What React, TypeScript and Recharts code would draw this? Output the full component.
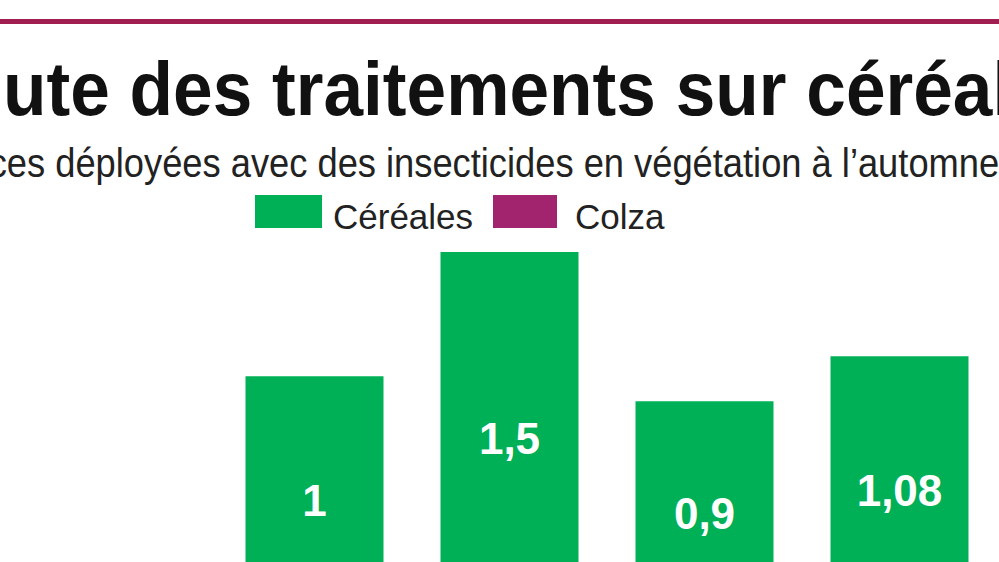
import { BarChart, Bar, XAxis, YAxis, LabelList } from "recharts"

// values printed on the bars (the x axis labels are outside the visible crop)
const periods = ["P1", "P2", "P3", "P4"]
const cereales = [1, 1.5, 0.9, 1.08]

const GREEN = "#00b057"
const PURPLE = "#a2246f"
const LINE = "#a01e50"

const data = periods.map((p, i) => ({ period: p, cereales: cereales[i] }))

const fmt = (v: any) => String(v).replace(".", ",")

export default function App() {
  return (
    <div
      style={{
        position: "fixed",
        left: 0,
        top: 0,
        width: 999,
        height: 562,
        overflow: "hidden",
        background: "#fff",
        fontFamily: "'Liberation Sans', Arial, sans-serif",
      }}
    >
      <div style={{ position: "absolute", left: 0, top: 19, width: 999, height: 5, background: LINE }} />

      {/* title and subtitle run past both edges of the crop */}
      <div
        style={{
          position: "absolute",
          left: -92,
          top: 49,
          whiteSpace: "nowrap",
          fontSize: 76,
          fontWeight: "bold",
          color: "#111",
          lineHeight: "80px",
          transform: "scaleX(0.937)",
          transformOrigin: "left",
        }}
      >
        Chute des traitements sur céréales
      </div>

      <div
        style={{
          position: "absolute",
          left: -98,
          top: 140,
          whiteSpace: "nowrap",
          fontSize: 40,
          color: "#222",
          lineHeight: "46px",
          transform: "scaleX(0.907)",
          transformOrigin: "left",
        }}
      >
        Surfaces déployées avec des insecticides en végétation à l’automne
      </div>

      {/* legend */}
      <div style={{ position: "absolute", left: 255, top: 195, width: 67, height: 33, background: GREEN }} />
      <div style={{ position: "absolute", left: 333, top: 197, fontSize: 35, lineHeight: "40px", color: "#222" }}>
        Céréales
      </div>
      <div style={{ position: "absolute", left: 493, top: 195, width: 64, height: 33, background: PURPLE }} />
      <div style={{ position: "absolute", left: 575, top: 197, fontSize: 35, lineHeight: "40px", color: "#222" }}>
        Colza
      </div>

      <div style={{ position: "absolute", left: 0, top: 0 }}>
        <BarChart width={999} height={625} data={data} margin={{ top: 227, right: 2.5, bottom: 0, left: 216.5 }}>
          <XAxis dataKey="period" hide />
          <YAxis hide domain={[0, 1.6]} />
          <Bar dataKey="cereales" fill={GREEN} barSize={138} isAnimationActive={false}>
            <LabelList
              dataKey="cereales"
              position="center"
              formatter={fmt}
              fill="#fff"
              fontSize={44}
              fontWeight="bold"
            />
          </Bar>
        </BarChart>
      </div>
    </div>
  )
}
